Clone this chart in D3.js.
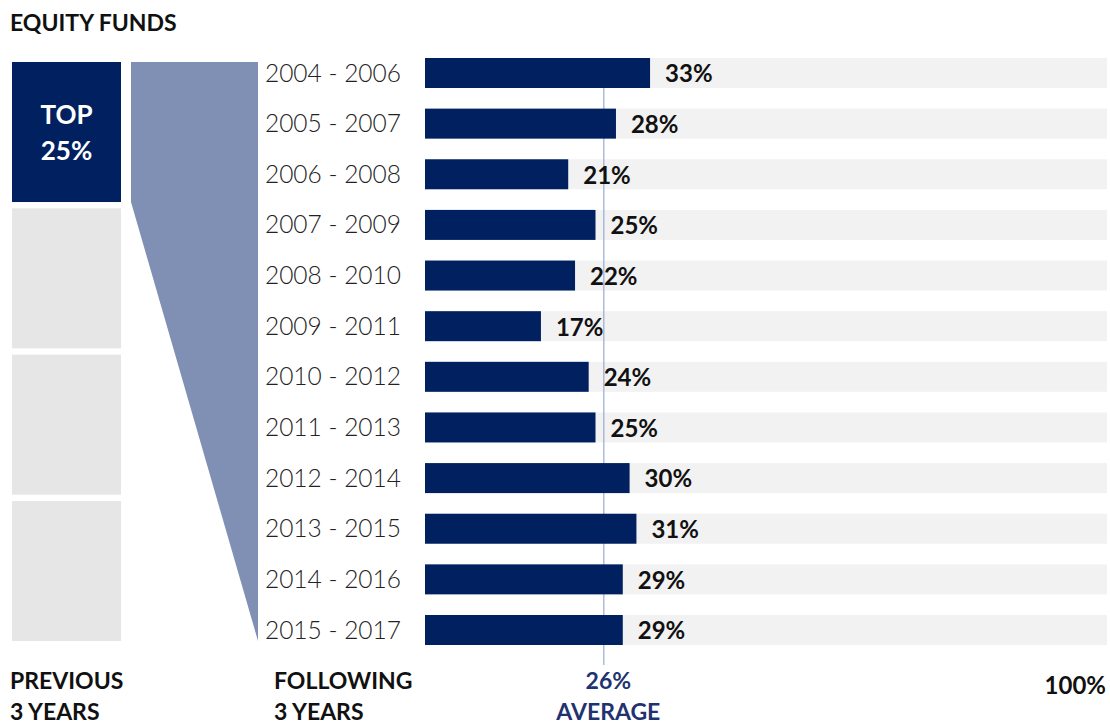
<!DOCTYPE html>
<html>
<head>
<meta charset="utf-8">
<script src="https://cdn.jsdelivr.net/npm/d3@7"></script>
<style>
  html, body { margin: 0; padding: 0; background: #fff; }
  svg { display: block; font-family: Lato, "Open Sans", sans-serif; }
</style>
</head>
<body>
<svg id="chart" width="1110" height="722"></svg>
<script>
// Share of top-quartile equity funds that stayed in the top quartile
const periods = ["2004 - 2006", "2005 - 2007", "2006 - 2008", "2007 - 2009", "2008 - 2010", "2009 - 2011",
                 "2010 - 2012", "2011 - 2013", "2012 - 2014", "2013 - 2015", "2014 - 2016", "2015 - 2017"];
const persistence = [33, 28, 21, 25, 22, 17, 24, 25, 30, 31, 29, 29];
const averageValue = 26;
const quartiles = ["TOP 25%", "", "", ""];
const NAVY = "#002060";

const svg = d3.select("#chart");

const x = d3.scaleLinear().domain([0, 100]).range([425, 1107]);
const y = d3.scalePoint().domain(periods).range([73, 630]);
const barH = 30;
const q = d3.scaleBand().domain(d3.range(quartiles.length)).range([62, 641]).paddingInner(0.043);

// Title
svg.append("text").attr("x", 10).attr("y", 31)
  .attr("font-size", 23).attr("font-weight", 700).attr("fill", "#111")
  .text("EQUITY FUNDS");

// Quartile blocks (previous 3 years)
const qx0 = 12, qx1 = 121;
svg.selectAll("rect.quart").data(quartiles).join("rect")
  .attr("class", "quart")
  .attr("x", qx0).attr("width", qx1 - qx0)
  .attr("y", (d, i) => q(i)).attr("height", q.bandwidth())
  .attr("fill", (d, i) => i === 0 ? NAVY : "#e6e6e6");

const topLines = quartiles[0].split(" ");
svg.append("text").attr("x", (qx0 + qx1) / 2).attr("text-anchor", "middle")
  .attr("font-size", 26).attr("font-weight", 700).attr("fill", "#fff")
  .selectAll("tspan").data(topLines).join("tspan")
  .attr("x", (qx0 + qx1) / 2).attr("y", (d, i) => 124 + i * 36).text(d => d);

// Funnel from the top quartile to the following-period rows
const fx0 = 131, fx1 = 258;
const fTop = q(0), fMid = q(0) + q.bandwidth(), fBot = q(quartiles.length - 1) + q.bandwidth();
svg.append("polygon")
  .attr("points", [[fx0, fTop], [fx1, fTop], [fx1, fBot], [fx0, fMid]].map(p => p.join(",")).join(" "))
  .attr("fill", "#8090b4");

// Period labels
svg.selectAll("text.period").data(periods).join("text")
  .attr("class", "period")
  .attr("x", 401).attr("y", d => y(d)).attr("dy", "0.35em")
  .attr("text-anchor", "end").attr("font-size", 24.5).attr("font-weight", 300).attr("fill", "#222")
  .text(d => d);

// Background tracks (0–100%)
svg.selectAll("rect.track").data(periods).join("rect")
  .attr("class", "track")
  .attr("x", x(0)).attr("width", x(100) - x(0))
  .attr("y", d => y(d) - barH / 2).attr("height", barH)
  .attr("fill", "#f2f2f2");

// Average reference line
svg.append("line")
  .attr("x1", x(averageValue) + 1.5).attr("x2", x(averageValue) + 1.5)
  .attr("y1", y(periods[0]) + barH / 2).attr("y2", 665)
  .attr("stroke", "#9aaad0").attr("stroke-width", 1.2);

// Bars
svg.selectAll("rect.bar").data(persistence).join("rect")
  .attr("class", "bar")
  .attr("x", x(0)).attr("width", d => x(d) - x(0))
  .attr("y", (d, i) => y(periods[i]) - barH / 2).attr("height", barH)
  .attr("fill", NAVY);

// Value labels
svg.selectAll("text.val").data(persistence).join("text")
  .attr("class", "val")
  .attr("x", d => x(d) + 15).attr("y", (d, i) => y(periods[i]) + 1).attr("dy", "0.35em")
  .attr("font-size", 24).attr("font-weight", 700).attr("fill", "#111")
  .text(d => d + "%");

// Footer labels
function twoLine(xp, anchor, lines, color, y0) {
  const t = svg.append("text").attr("text-anchor", anchor)
    .attr("font-size", 23).attr("font-weight", 700).attr("fill", color);
  t.selectAll("tspan").data(lines).join("tspan")
    .attr("x", xp).attr("y", (d, i) => y0 + i * 31).text(d => d);
}
twoLine(10, "start", ["PREVIOUS", "3 YEARS"], "#111", 689);
twoLine(274, "start", ["FOLLOWING", "3 YEARS"], "#111", 689);
twoLine(x(averageValue) + 6, "middle", [averageValue + "%", "AVERAGE"], "#1f3370", 689);
svg.append("text").attr("x", 1106).attr("y", 694).attr("text-anchor", "end")
  .attr("font-size", 24).attr("font-weight", 700).attr("fill", "#111").text("100%");
</script>
</body>
</html>
